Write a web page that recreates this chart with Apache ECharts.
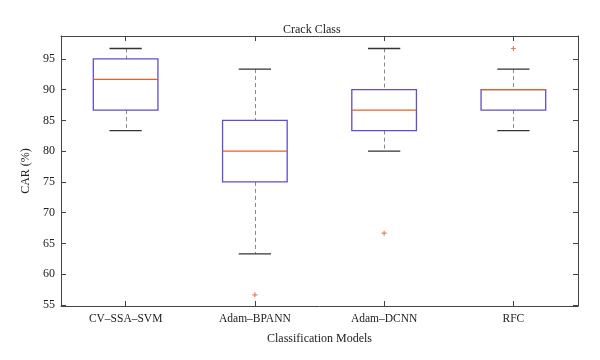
<!DOCTYPE html>
<html>
<head>
<meta charset="utf-8">
<script src="https://cdn.jsdelivr.net/npm/echarts@6/dist/echarts.min.js"></script>
<style>html,body{margin:0;padding:0;background:#fff;}#c{width:600px;height:360px;}</style>
</head>
<body>
<div id="c"></div>
<script>
var categories = ['CV–SSA–SVM', 'Adam–BPANN', 'Adam–DCNN', 'RFC'];
// [lower whisker, Q1, median, Q3, upper whisker]
var boxStats = [
  [83.33, 86.67, 91.67, 95.00, 96.67],
  [63.33, 75.00, 80.00, 85.00, 93.33],
  [80.00, 83.33, 86.67, 90.00, 96.67],
  [83.33, 86.67, 90.00, 90.00, 93.33]
];
// [category index (1-based), value]
var outliers = [[2, 56.67], [3, 66.67], [4, 96.67]];
var yTicks = [55, 60, 65, 70, 75, 80, 85, 90, 95];
var xTicks = [1, 2, 3, 4];

var font = 'Liberation Serif';
var axisColor = '#444';
var boxColor = '#5e50c8';
var medColor = '#e4602a';

var boxData = boxStats.map(function (s, i) { return [i + 1].concat(s); });

var chart = echarts.init(document.getElementById('c'), null, {renderer: 'canvas'});

function xAxisCommon(pos, showLabel) {
  return {
    type: 'value', position: pos, min: 0.5, max: 4.5,
    axisLine: {show: true, onZero: false, lineStyle: {color: axisColor, width: 1}},
    splitLine: {show: false},
    axisTick: {show: true, inside: true, length: 5, customValues: xTicks, lineStyle: {color: axisColor}},
    axisLabel: {show: showLabel, customValues: xTicks, margin: 7, color: '#222', fontFamily: font, fontSize: 11.5,
      formatter: function (v) { return categories[Math.round(v) - 1] || ''; }}
  };
}
function yAxisCommon(pos, showLabel) {
  return {
    type: 'value', position: pos, min: 54.85, max: 98.7,
    axisLine: {show: true, onZero: false, lineStyle: {color: axisColor, width: 1}},
    splitLine: {show: false},
    axisTick: {show: true, inside: true, length: 5, customValues: yTicks, lineStyle: {color: axisColor}},
    axisLabel: {show: showLabel, customValues: yTicks, margin: 6, color: '#222', fontFamily: font, fontSize: 12}
  };
}

var xb = xAxisCommon('bottom', true);
xb.name = 'Classification Models';
xb.nameLocation = 'middle';
xb.nameGap = 27;
xb.nameTextStyle = {color: '#222', fontFamily: font, fontSize: 12};
var yl = yAxisCommon('left', true);
yl.name = 'CAR (%)';
yl.nameLocation = 'middle';
yl.nameGap = 29;
yl.nameTextStyle = {color: '#222', fontFamily: font, fontSize: 12};

var option = {
  backgroundColor: '#fff',
  animation: false,
  title: {text: 'Crack Class', left: 278, top: 19,
    textStyle: {color: '#222', fontFamily: font, fontSize: 12, fontWeight: 'normal'}},
  grid: {left: 61, right: 22, top: 36, bottom: 54},
  xAxis: [xb, xAxisCommon('top', false)],
  yAxis: [yl, yAxisCommon('right', false)],
  series: [
    {
      type: 'custom',
      xAxisIndex: 0, yAxisIndex: 0,
      data: boxData,
      encode: {x: 0, y: [1, 2, 3, 4, 5]},
      renderItem: function (params, api) {
        var x = api.value(0);
        var lo = api.value(1), q1 = api.value(2), md = api.value(3), q3 = api.value(4), hi = api.value(5);
        var bw = 0.25, cw = 0.125;
        var pL = api.coord([x - bw, q3]), pR = api.coord([x + bw, q1]);
        var pc = api.coord([x, md]);
        var cL = api.coord([x - cw, hi])[0], cR = api.coord([x + cw, hi])[0];
        var yHi = api.coord([x, hi])[1], yLo = api.coord([x, lo])[1];
        var yQ1 = api.coord([x, q1])[1], yQ3 = api.coord([x, q3])[1];
        var cx = Math.round(pc[0]) + 0.5;
        return {
          type: 'group',
          children: [
            {type: 'line', shape: {x1: cx, y1: yHi, x2: cx, y2: yQ3},
              style: {stroke: '#888', lineWidth: 1, lineDash: [4, 3]}},
            {type: 'line', shape: {x1: cx, y1: yQ1, x2: cx, y2: yLo},
              style: {stroke: '#888', lineWidth: 1, lineDash: [4, 3]}},
            {type: 'line', shape: {x1: cL, y1: yHi, x2: cR, y2: yHi},
              style: {stroke: '#333', lineWidth: 1.3}},
            {type: 'line', shape: {x1: cL, y1: yLo, x2: cR, y2: yLo},
              style: {stroke: '#333', lineWidth: 1.3}},
            {type: 'rect', shape: {x: pL[0], y: yQ3, width: pR[0] - pL[0], height: yQ1 - yQ3},
              style: {fill: 'none', stroke: boxColor, lineWidth: 1.3}},
            {type: 'line', shape: {x1: pL[0], y1: pc[1], x2: pR[0], y2: pc[1]},
              style: {stroke: medColor, lineWidth: 1.2}}
          ]
        };
      }
    },
    {
      type: 'scatter',
      xAxisIndex: 0, yAxisIndex: 0,
      data: outliers,
      symbol: 'path://M-1,0L1,0M0,-1L0,1',
      symbolSize: 5,
      itemStyle: {color: 'rgba(0,0,0,0)', borderColor: medColor, borderWidth: 1.2}
    }
  ]
};
chart.setOption(option);
</script>
</body>
</html>
